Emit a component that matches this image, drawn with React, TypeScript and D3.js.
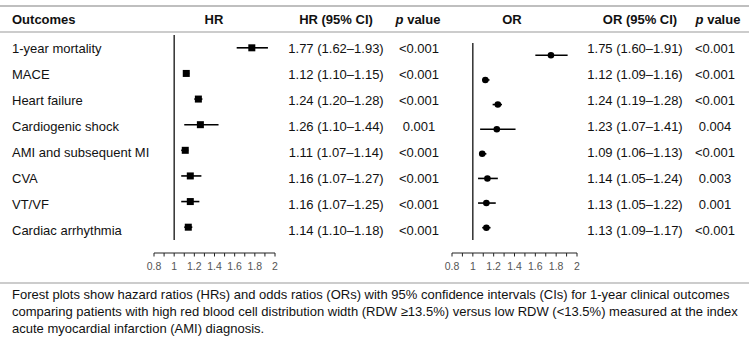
import React from 'react';
import * as d3 from 'd3';

const outcomes = ['1-year mortality', 'MACE', 'Heart failure', 'Cardiogenic shock', 'AMI and subsequent MI', 'CVA', 'VT/VF', 'Cardiac arrhythmia'];

const hrEst = [1.77, 1.12, 1.24, 1.26, 1.11, 1.16, 1.16, 1.14];
const hrLow = [1.62, 1.10, 1.20, 1.10, 1.07, 1.07, 1.07, 1.10];
const hrHigh = [1.93, 1.15, 1.28, 1.44, 1.14, 1.27, 1.25, 1.18];
const hrP = ['<0.001', '<0.001', '<0.001', '0.001', '<0.001', '<0.001', '<0.001', '<0.001'];

const orEst = [1.75, 1.12, 1.24, 1.23, 1.09, 1.14, 1.13, 1.13];
const orLow = [1.60, 1.09, 1.19, 1.07, 1.06, 1.05, 1.05, 1.09];
const orHigh = [1.91, 1.16, 1.28, 1.41, 1.13, 1.24, 1.22, 1.17];
const orP = ['<0.001', '<0.001', '<0.001', '0.004', '<0.001', '0.003', '0.001', '<0.001'];

const minorTicks = [0.8, 0.9, 1, 1.1, 1.2, 1.3, 1.4, 1.5, 1.6, 1.7, 1.8, 1.9, 2];
const tickLabels = [0.8, 1, 1.2, 1.4, 1.6, 1.8, 2];

const caption = [
  'Forest plots show hazard ratios (HRs) and odds ratios (ORs) with 95% confidence intervals (CIs) for 1-year clinical outcomes',
  'comparing patients with high red blood cell distribution width (RDW \u226513.5%) versus low RDW (<13.5%) measured at the index',
  'acute myocardial infarction (AMI) diagnosis.',
];

const W = 749, H = 337;
const font = 'Liberation Sans, Arial, sans-serif';
const narrow = 'Liberation Sans Narrow, Arial Narrow, sans-serif';

const fmt = (e: number, l: number, h: number) =>
  `${e.toFixed(2)} (${l.toFixed(2)}\u2013${h.toFixed(2)})`;

// row positions for the text table
const rowY = d3.scaleBand<number>().domain(d3.range(outcomes.length)).range([35, 243]);

interface PanelProps {
  x0: number; x1: number; top: number;
  est: number[]; low: number[]; high: number[];
  shape: 'square' | 'circle';
}

const Panel = ({ x0, x1, top, est, low, high, shape }: PanelProps) => {
  const x = d3.scaleLinear().domain([0.8, 2]).range([x0, x1]);
  const y = d3.scaleBand<number>().domain(d3.range(est.length)).range([top, 240]);
  const axisY = 253;
  return (
    <g>
      <line x1={x(1)} x2={x(1)} y1={top} y2={240} stroke="#111" strokeWidth={1.3} />
      {est.map((e, i) => {
        const cy = (y(i) as number) + y.bandwidth() / 2;
        return (
          <g key={i}>
            <line x1={x(low[i])} x2={x(high[i])} y1={cy} y2={cy} stroke="#000" strokeWidth={1.6} />
            {shape === 'square'
              ? <rect x={x(e) - 3.5} y={cy - 3.5} width={7} height={7} fill="#000" />
              : <circle cx={x(e)} cy={cy} r={3.3} fill="#000" />}
          </g>
        );
      })}
      <line x1={x(0.8)} x2={x(2)} y1={axisY} y2={axisY} stroke="#222" strokeWidth={1} />
      {minorTicks.map(t => (
        <line key={t} x1={x(t)} x2={x(t)} y1={axisY} y2={axisY + 3.5} stroke="#222" strokeWidth={1} />
      ))}
      {tickLabels.map(t => (
        <text key={t} x={x(t)} y={270} textAnchor="middle" fontFamily={narrow} fontSize={10.5} fill="#555">{t}</text>
      ))}
    </g>
  );
};

const App = () => {
  return (
    <div style={{ position: 'absolute', left: 0, top: 0 }}>
      <svg width={W} height={H} style={{ display: 'block', background: '#fff' }}>
        <line x1={0} x2={W} y1={6} y2={6} stroke="#aaa" strokeWidth={1.5} />
        <line x1={0} x2={W} y1={32} y2={32} stroke="#bbb" strokeWidth={1.5} />
        <line x1={0} x2={W} y1={283} y2={283} stroke="#999" strokeWidth={1.2} />

        <g fontFamily={font} fontSize={13} fontWeight="bold" fill="#111">
          <text x={12} y={24}>Outcomes</text>
          <text x={214} y={24} textAnchor="middle">HR</text>
          <text x={336} y={24} textAnchor="middle">HR (95% CI)</text>
          <text x={418} y={24} textAnchor="middle"><tspan fontStyle="italic">p</tspan> value</text>
          <text x={512} y={24} textAnchor="middle">OR</text>
          <text x={640} y={24} textAnchor="middle">OR (95% CI)</text>
          <text x={718} y={24} textAnchor="middle"><tspan fontStyle="italic">p</tspan> value</text>
        </g>

        <g fontFamily={font} fontSize={13} fill="#111">
          {outcomes.map((o, i) => {
            const cy = (rowY(i) as number) + rowY.bandwidth() / 2 + 4.5;
            return (
              <g key={o}>
                <text x={12} y={cy}>{o}</text>
                <text x={336} y={cy} textAnchor="middle">{fmt(hrEst[i], hrLow[i], hrHigh[i])}</text>
                <text x={419} y={cy} textAnchor="middle">{hrP[i]}</text>
                <text x={635} y={cy} textAnchor="middle">{fmt(orEst[i], orLow[i], orHigh[i])}</text>
                <text x={715} y={cy} textAnchor="middle">{orP[i]}</text>
              </g>
            );
          })}
        </g>

        <Panel x0={154} x1={275} top={35} est={hrEst} low={hrLow} high={hrHigh} shape="square" />
        <Panel x0={452} x1={577} top={43} est={orEst} low={orLow} high={orHigh} shape="circle" />

        <g fontFamily={font} fontSize={13} fill="#111">
          {caption.map((c, i) => (
            <text key={i} x={12} y={298.5 + i * 17}>{c}</text>
          ))}
        </g>
      </svg>
    </div>
  );
};

export default App;
